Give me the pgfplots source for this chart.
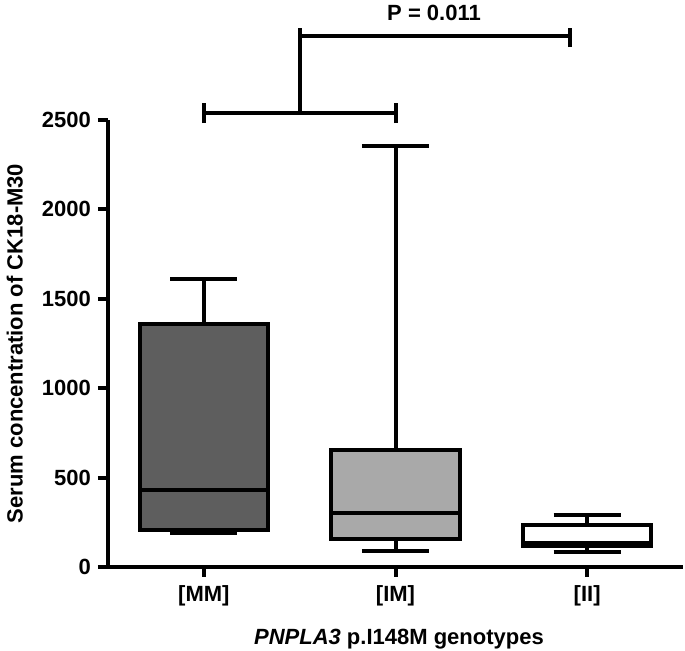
\documentclass[border=0pt]{standalone}
\usepackage{pgfplots}
\pgfplotsset{compat=1.18}
\usepackage{fontspec}
\setmainfont{Liberation Sans}
\definecolor{darkbox}{HTML}{5E5E5E}
\definecolor{lightbox}{HTML}{A9A9A9}
\begin{document}
\begin{tikzpicture}
\path[use as bounding box] (-54pt,-42pt) rectangle (288.5pt,283.5pt);
\begin{axis}[
  scale only axis, width=287.5pt, height=223.5pt,
  xmin=0.5, xmax=3.5, ymin=0, ymax=2500,
  axis x line*=bottom, axis y line*=left,
  axis line style={line width=2pt},
  xtick={1,2,3}, xticklabels={{[MM]},{[IM]},{[II]}},
  ytick={0,500,1000,1500,2000,2500},
  tick align=outside, major tick length=5pt,
  tick style={line width=2pt, black},
  ticklabel style={font=\fontsize{11}{13}\selectfont\bfseries},
  /pgf/number format/assume math mode=true,
  /pgf/number format/1000 sep={},
  label style={font=\fontsize{11}{13}\selectfont\bfseries},
  ylabel={Serum concentration of CK18-M30},
  xlabel={\textit{PNPLA3} p.I148M genotypes},
  ylabel style={at={(axis description cs:-0.162,0.5)}, anchor=center},
  xlabel style={at={(axis description cs:0.506,-0.162)}, anchor=center},
  xticklabel style={yshift=-1pt},
  clip=false,
  unbounded coords=jump,
  ln/.style={draw=black, solid, line width=2pt, mark=none},
]
% boxes (lower quartile to upper quartile), box width 0.67
\addplot[ln, fill=darkbox] coordinates {(0.665,207) (1.335,207) (1.335,1360) (0.665,1360)} -- cycle;
\addplot[ln, fill=lightbox] coordinates {(1.665,155) (2.335,155) (2.335,655) (1.665,655)} -- cycle;
\addplot[ln, fill=white] coordinates {(2.665,118) (3.335,118) (3.335,235) (2.665,235)} -- cycle;
% whiskers and caps
\addplot[ln] coordinates {(1,1360) (1,1610) (nan,nan) (0.825,1610) (1.175,1610) (nan,nan) (1,207) (1,190) (nan,nan) (0.825,190) (1.175,190)};
\addplot[ln] coordinates {(2,655) (2,2355) (nan,nan) (1.825,2355) (2.175,2355) (nan,nan) (2,155) (2,90) (nan,nan) (1.825,90) (2.175,90)};
\addplot[ln] coordinates {(3,235) (3,291) (nan,nan) (2.825,291) (3.175,291) (nan,nan) (3,118) (3,84) (nan,nan) (2.825,84) (3.175,84)};
% medians
\addplot[ln] coordinates {(0.665,430) (1.335,430) (nan,nan) (1.665,302) (2.335,302) (nan,nan) (2.665,135) (3.335,135)};
% significance brackets
\addplot[ln] coordinates {(1,2483) (1,2595) (nan,nan) (1,2539) (2,2539) (nan,nan) (2,2483) (2,2595) (nan,nan) (1.5,2539) (1.5,3015) (nan,nan) (1.5,2970) (2.91,2970) (nan,nan) (2.91,2908) (2.91,3015)};
\node[font=\fontsize{11}{13}\selectfont\bfseries] at (rel axis cs:0.567,1.239) {P = 0.011};
\end{axis}
\end{tikzpicture}
\end{document}
